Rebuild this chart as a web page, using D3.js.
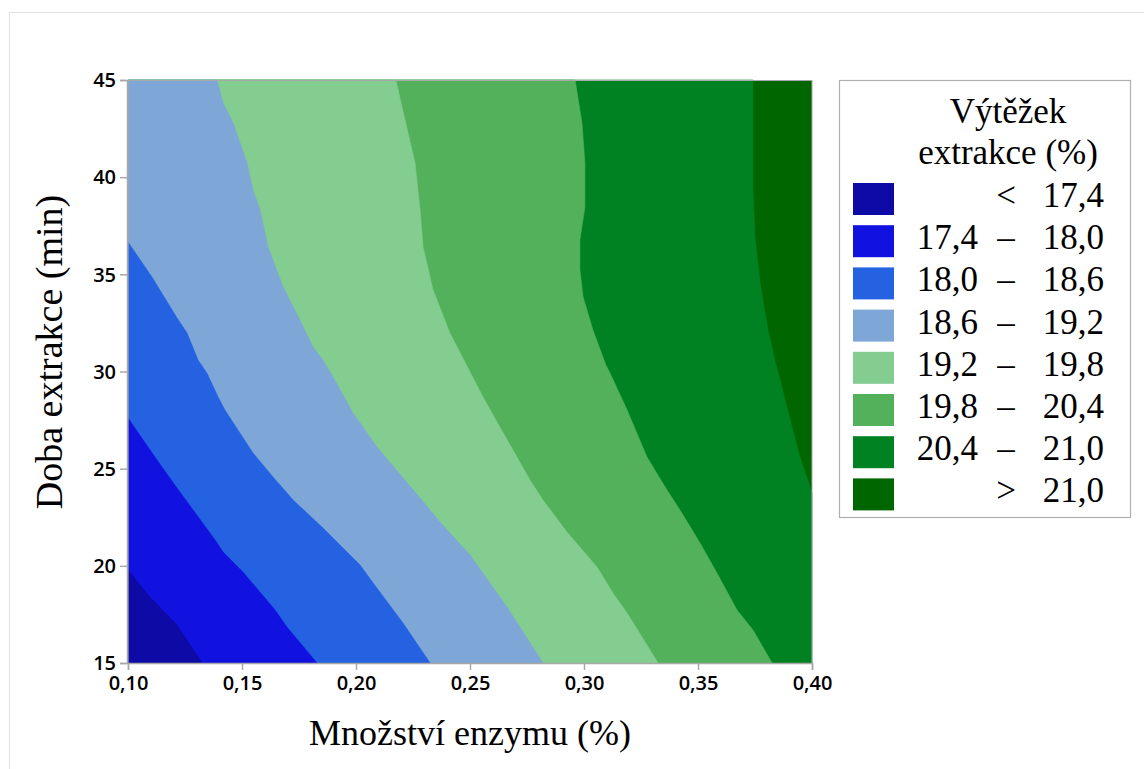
<!DOCTYPE html>
<html>
<head>
<meta charset="utf-8">
<script src="https://cdn.jsdelivr.net/npm/d3@7"></script>
<style>
  html, body { margin: 0; padding: 0; background: #fff; }
  svg { display: block; }
</style>
</head>
<body>
<svg id="chart" width="1144" height="769"></svg>
<script>
// ---- Data ----
const xDomain = [0.10, 0.40];          // Množství enzymu (%)
const yDomain = [15, 45];              // Doba extrakce (min)
const xTicks = [0.10, 0.15, 0.20, 0.25, 0.30, 0.35, 0.40];
const yTicks = [15, 20, 25, 30, 35, 40, 45];

const thresholds = [17.4, 18.0, 18.6, 19.2, 19.8, 20.4, 21.0];
const bandLabels = [["", "<", "17,4"], ["17,4", "–", "18,0"], ["18,0", "–", "18,6"], ["18,6", "–", "19,2"],
                    ["19,2", "–", "19,8"], ["19,8", "–", "20,4"], ["20,4", "–", "21,0"], ["", ">", "21,0"]];
const bandColors = ["#0e0aa6", "#1212e0", "#2462e2", "#7ea7d8", "#82cd8f", "#53b05b", "#008222", "#006700"];

// contour lines: [enzyme %, time min] points along each threshold
const c174 = [[0.100,19.78],[0.1096,18.39],[0.1215,16.95],[0.1325,15.0]];
const c180 = [[0.100,27.61],[0.1118,25.60],[0.1215,24.00],[0.1382,21.33],[0.1417,20.71],[0.1504,19.68],
              [0.1645,17.73],[0.1697,16.85],[0.1829,15.0]];
const c186 = [[0.100,36.66],[0.1105,34.86],[0.1215,32.75],[0.1259,31.98],[0.1307,30.59],[0.1346,29.92],
              [0.1395,28.69],[0.1425,28.02],[0.1548,25.81],[0.1636,24.57],[0.1724,23.39],[0.1855,21.95],
              [0.2018,20.04],[0.2075,19.12],[0.2206,17.06],[0.2325,15.0]];
const c192 = [[0.1390,45],[0.1417,43.82],[0.1461,42.79],[0.1522,40.73],[0.1548,39.34],[0.1579,38.31],
              [0.1614,36.41],[0.1680,34.35],[0.1754,32.65],[0.1811,31.26],[0.1855,30.59],[0.1899,29.72],
              [0.1987,27.86],[0.2092,26.11],[0.2281,23.49],[0.2368,22.25],[0.2500,20.56],[0.2662,17.88],
              [0.2719,16.85],[0.2820,15.0]];
const c198 = [[0.2175,45],[0.2215,42.94],[0.2259,40.73],[0.2281,38.31],[0.2294,36.41],[0.2338,34.19],
              [0.2412,31.98],[0.2491,30.18],[0.2557,28.69],[0.2601,27.76],[0.2763,24.42],[0.2820,23.39],
              [0.2925,21.74],[0.3057,19.94],[0.3127,18.60],[0.3189,17.57],[0.3325,15.0]];
const c204 = [[0.2961,45],[0.2991,42.79],[0.3004,40.73],[0.3004,38.46],[0.2982,36.77],[0.2982,35.22],
              [0.2996,33.83],[0.3039,32.13],[0.3096,30.33],[0.3114,29.92],[0.3189,28.02],[0.3276,25.60],
              [0.3364,23.90],[0.3421,22.87],[0.3509,21.17],[0.3583,19.63],[0.3671,17.73],[0.3741,16.70],
              [0.3825,15.0]];
const c210 = [[0.3741,45],[0.3741,42.94],[0.3741,39.34],[0.3750,36.92],[0.3772,34.55],[0.3807,32.13],
              [0.3842,30.33],[0.3860,29.56],[0.3904,27.50],[0.3947,25.60],[0.4000,23.75]];
const contours = [c174, c180, c186, c192, c198, c204, c210];

// ---- Layout ----
const svg = d3.select("#chart");
const plot = { left: 128, right: 812, top: 80, bottom: 663 };
const x = d3.scaleLinear().domain(xDomain).range([plot.left, plot.right]);
const y = d3.scaleLinear().domain(yDomain).range([plot.bottom, plot.top]);
const comma = v => d3.format(".2f")(v).replace(".", ",");

// outer frame
svg.append("rect").attr("x", 9.5).attr("y", 12.5).attr("width", 1200).attr("height", 800)
  .attr("fill", "none").attr("stroke", "#e2e2e2").attr("stroke-width", 1);

const g = svg.append("g");
// background: highest band
g.append("rect").attr("x", x(xDomain[0])).attr("y", y(yDomain[1]))
  .attr("width", x(xDomain[1]) - x(xDomain[0])).attr("height", y(yDomain[0]) - y(yDomain[1]))
  .attr("fill", bandColors[bandColors.length - 1]);

const eps = 1e-6;
function lowerRegion(pts) {
  const poly = pts.slice();
  const end = pts[pts.length - 1], start = pts[0];
  if (Math.abs(end[0] - xDomain[1]) < eps && end[1] > yDomain[0] + eps) poly.push([xDomain[1], yDomain[0]]);
  poly.push([xDomain[0], yDomain[0]]);
  if (Math.abs(start[1] - yDomain[1]) < eps && start[0] > xDomain[0] + eps) poly.push([xDomain[0], yDomain[1]]);
  return poly;
}
const line = d3.line().x(d => x(d[0])).y(d => y(d[1]));
for (let k = contours.length - 1; k >= 0; k--) {
  g.append("path").attr("d", line(lowerRegion(contours[k])) + "Z")
    .attr("fill", bandColors[k]).attr("stroke", bandColors[k]).attr("stroke-width", 0.6);
}

// frame of the plot
svg.append("rect").attr("x", plot.left).attr("y", plot.top + 0.5)
  .attr("width", plot.right - plot.left).attr("height", plot.bottom - plot.top)
  .attr("fill", "none").attr("stroke", "#a8a8a8").attr("stroke-width", 1);

// axes
const axisFont = "'Open Sans', 'Noto Sans', sans-serif";
const xAxis = svg.append("g").attr("transform", `translate(0,${plot.bottom})`)
  .call(d3.axisBottom(x).tickValues(xTicks).tickFormat(comma).tickSizeOuter(0).tickSize(7).tickPadding(6));
const yAxis = svg.append("g").attr("transform", `translate(${plot.left - 1},0)`)
  .call(d3.axisLeft(y).tickValues(yTicks).tickFormat(d3.format("d")).tickSizeOuter(0).tickSize(7).tickPadding(4));
[xAxis, yAxis].forEach(a => {
  a.attr("font-size", null).attr("font-family", null);
  a.select(".domain").attr("stroke", "#a8a8a8").attr("stroke-width", 1.5);
  a.selectAll(".tick line").attr("stroke", "#a8a8a8").attr("stroke-width", 1.5);
  a.selectAll(".tick text").attr("fill", "#000").attr("font-family", axisFont).attr("font-size", 20)
    .attr("font-weight", 600);
});
yAxis.selectAll(".tick text").attr("dy", "0.34em");

// axis titles
const serif = "'Liberation Serif', 'Times New Roman', serif";
svg.append("text").attr("x", 470).attr("y", 745).attr("text-anchor", "middle")
  .attr("font-family", serif).attr("font-size", 36).text("Množství enzymu (%)");
svg.append("text").attr("transform", "translate(62,352) rotate(-90)").attr("text-anchor", "middle")
  .attr("font-family", serif).attr("font-size", 38).text("Doba extrakce (min)");

// legend
const lg = svg.append("g");
lg.append("rect").attr("x", 839.5).attr("y", 80.5).attr("width", 291).attr("height", 437)
  .attr("fill", "#fff").attr("stroke", "#b0b0b0").attr("stroke-width", 1.2);
lg.append("text").attr("x", 1008).attr("y", 123).attr("text-anchor", "middle")
  .attr("font-family", serif).attr("font-size", 35).text("Výtěžek");
lg.append("text").attr("x", 1008).attr("y", 164).attr("text-anchor", "middle")
  .attr("font-family", serif).attr("font-size", 35).text("extrakce (%)");
const rowH = 42.2;
bandLabels.forEach((lab, i) => {
  const top = 183 + i * rowH;
  lg.append("rect").attr("x", 853).attr("y", top).attr("width", 41).attr("height", 32)
    .attr("fill", bandColors[i]);
  const base = top + 24;
  const t = (xx, anchor, s) => lg.append("text").attr("x", xx).attr("y", base).attr("text-anchor", anchor)
    .attr("font-family", serif).attr("font-size", 35).text(s);
  if (lab[0]) t(978, "end", lab[0]);
  t(1006, "middle", lab[1]);
  t(1104, "end", lab[2]);
});
</script>
</body>
</html>
